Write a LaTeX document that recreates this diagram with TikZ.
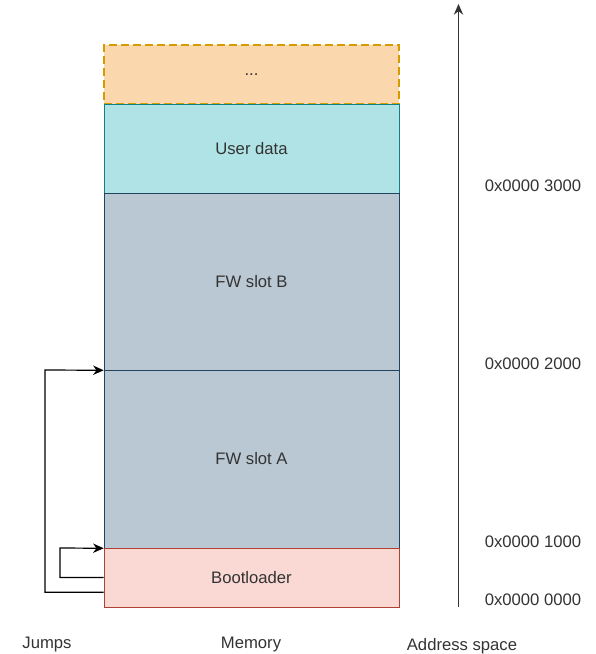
\documentclass[tikz,border=0pt]{standalone}
\usepackage{fontspec}
\setmainfont{Liberation Sans}
\usetikzlibrary{arrows.meta,positioning}
\definecolor{dotsfill}{HTML}{FAD7AC}
\definecolor{dotsline}{HTML}{D79B00}
\definecolor{userfill}{HTML}{B0E3E6}
\definecolor{userline}{HTML}{0E8088}
\definecolor{slotfill}{HTML}{BAC8D3}
\definecolor{slotline}{HTML}{23445D}
\definecolor{bootfill}{HTML}{FAD9D5}
\definecolor{bootline}{HTML}{AE4132}
\definecolor{txtgray}{HTML}{333333}
\tikzset{
  memblock/.style={draw, rectangle, minimum width=221.25pt, inner sep=0pt,
    font=\fontsize{12.5}{15}\selectfont, text=txtgray},
  addrlabel/.style={font=\fontsize{12.5}{15}\selectfont, text=txtgray},
  jump/.style={-{Stealth[length=8pt,width=7pt]}, black, line width=0.9pt}
}

\begin{document}
\begin{tikzpicture}[x=0.75pt, y=-0.75pt, >=Stealth]
  \useasboundingbox (0,0) rectangle (596,654);
  % memory blocks
  \node[memblock, fill=dotsfill, draw=dotsline, dash pattern=on 6pt off 3pt,
        line width=0.9pt, minimum height=44.25pt] (dots) at (251.5,74.5) {...};
  \node[memblock, fill=userfill, draw=userline, minimum height=66.75pt]
        (userdata) at (251.5,148.5) {User data};
  \node[memblock, fill=slotfill, draw=slotline, minimum height=132.75pt]
        (slotb) at (251.5,281.5) {FW slot B};
  \node[memblock, fill=slotfill, draw=slotline, minimum height=133.5pt]
        (slota) at (251.5,459) {FW slot A};
  \node[memblock, fill=bootfill, draw=bootline, minimum height=44.25pt]
        (boot) at (251.5,577.5) {Bootloader};
  % jumps
  \draw[jump] (boot.west) -| (60,548) -- (slota.south west);
  \draw[jump] ([yshift=11.25pt]boot.south west) -| (45,370) -- (slotb.south west);
  % address axis
  \coordinate (axbot) at (458.5,607);
  \coordinate (axtop) at (458.5,4);
  \draw[-{Stealth[length=8pt,width=7pt]}, txtgray, line width=0.9pt] (axbot) -- (axtop);
  \foreach \y/\a in {186/3000, 364/2000, 542/1000, 600/0000}
    \node[addrlabel] at (533,\y) {0x0000 \a};
  % captions
  \node[addrlabel] (jumps) at (47,644) {Jumps};
  \node[addrlabel] (memory) at (251,644) {Memory};
  \node[addrlabel] (addr) at (462,646) {Address space};
\end{tikzpicture}
\end{document}
